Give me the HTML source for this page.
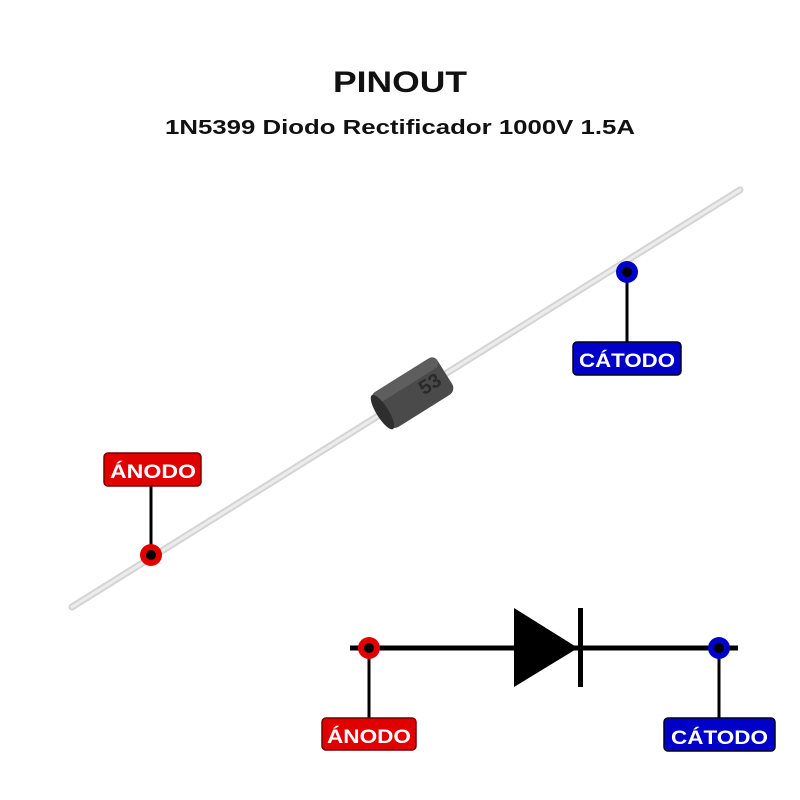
<!DOCTYPE html>
<html><head><meta charset="utf-8"><style>
html,body{margin:0;padding:0;background:#fff;width:800px;height:800px;overflow:hidden}
svg{display:block}
text{font-family:"Liberation Sans",sans-serif;font-weight:bold}
</style></head><body>
<svg width="800" height="800" viewBox="0 0 800 800">
<text x="333" y="92" font-size="30" fill="#111" textLength="134" lengthAdjust="spacingAndGlyphs">PINOUT</text>
<text x="165" y="134" font-size="20" fill="#111" textLength="470" lengthAdjust="spacingAndGlyphs">1N5399 Diodo Rectificador 1000V 1.5A</text>
<!-- wire -->
<line x1="72" y1="607" x2="740" y2="190" stroke="#d4d4d4" stroke-width="7" stroke-linecap="round"/>
<line x1="72" y1="607" x2="740" y2="190" stroke="#ececec" stroke-width="3" stroke-linecap="round"/>
<!-- body -->
<g transform="translate(413,393) rotate(-32)">
<rect x="-38" y="-21" width="76" height="42" rx="8" fill="#4a4a4a"/>
<rect x="-38" y="-21" width="76" height="12" rx="6" fill="#5e5e5e"/>
<ellipse cx="-36" cy="0" rx="6" ry="20" fill="#2e2e2e"/>
<text x="8" y="8" font-size="20" fill="#2a2a2a" font-weight="normal">53</text>
</g>
<!-- top anode -->
<line x1="151" y1="486" x2="151" y2="555" stroke="#000" stroke-width="3"/>
<rect x="104" y="453" width="97" height="33" rx="4" fill="#e00000" stroke="#700" stroke-width="1.5"/>
<text x="110" y="478" font-size="19" fill="#fff" textLength="86" lengthAdjust="spacingAndGlyphs">ÁNODO</text>
<circle cx="151" cy="555" r="11" fill="#e00000"/><circle cx="151" cy="555" r="5" fill="#000"/>
<!-- top cathode -->
<line x1="627" y1="272" x2="627" y2="342" stroke="#000" stroke-width="3"/>
<rect x="573" y="342" width="108" height="33" rx="4" fill="#0000c8" stroke="#002" stroke-width="1.5"/>
<text x="579" y="367" font-size="19" fill="#fff" textLength="96" lengthAdjust="spacingAndGlyphs">CÁTODO</text>
<circle cx="627" cy="272" r="11" fill="#0000c8"/><circle cx="627" cy="272" r="5" fill="#000"/>
<!-- schematic -->
<line x1="350" y1="648" x2="738" y2="648" stroke="#000" stroke-width="5"/>
<polygon points="514,608 578,648 514,687" fill="#000"/>
<rect x="578" y="608" width="5" height="79" fill="#000"/>
<line x1="369" y1="648" x2="369" y2="718" stroke="#000" stroke-width="3"/>
<line x1="719" y1="648" x2="719" y2="718" stroke="#000" stroke-width="3"/>
<circle cx="369" cy="648" r="11" fill="#e00000"/><circle cx="369" cy="648" r="5" fill="#000"/>
<circle cx="719" cy="648" r="11" fill="#0000c8"/><circle cx="719" cy="648" r="5" fill="#000"/>
<rect x="322" y="718" width="94" height="32" rx="4" fill="#e00000" stroke="#700" stroke-width="1.5"/>
<text x="327" y="743" font-size="19" fill="#fff" textLength="84" lengthAdjust="spacingAndGlyphs">ÁNODO</text>
<rect x="664" y="718" width="111" height="33" rx="4" fill="#0000c8" stroke="#002" stroke-width="1.5"/>
<text x="671" y="744" font-size="19" fill="#fff" textLength="97" lengthAdjust="spacingAndGlyphs">CÁTODO</text>
</svg>
</body></html>
